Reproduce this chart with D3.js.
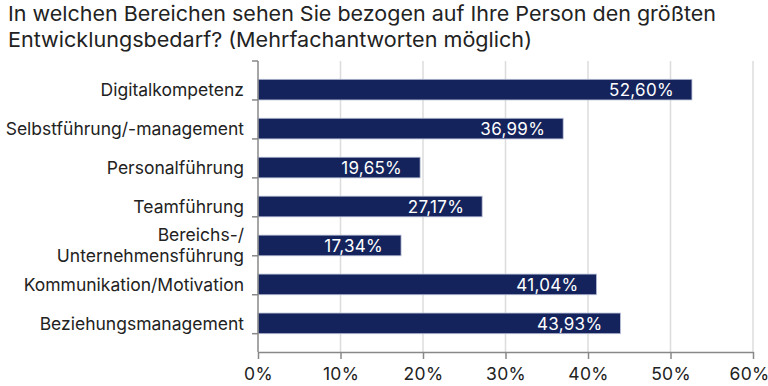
<!DOCTYPE html>
<html>
<head>
<meta charset="utf-8">
<script src="https://cdn.jsdelivr.net/npm/d3@7"></script>
<style>
  body { margin: 0; background: #fff; }
  svg { font-family: Inter, "Noto Sans", sans-serif; }
</style>
</head>
<body>
<svg id="chart" width="768" height="386"></svg>
<script>
const categories = [
  "Digitalkompetenz",
  "Selbstführung/-management",
  "Personalführung",
  "Teamführung",
  "Bereichs-/\nUnternehmensführung",
  "Kommunikation/Motivation",
  "Beziehungsmanagement"
];
const values = [52.60, 36.99, 19.65, 27.17, 17.34, 41.04, 43.93];
const xTicks = [0, 10, 20, 30, 40, 50, 60];
const titleLines = [
  "In welchen Bereichen sehen Sie bezogen auf Ihre Person den größten",
  "Entwicklungsbedarf? (Mehrfachantworten möglich)"
];
const titleWidths = [708, 524];

const svg = d3.select("#chart");
const margin = { left: 258, right: 15, top: 61, bottom: 34 };
const width = 768, height = 386;

const x = d3.scaleLinear().domain([0, 60]).range([margin.left, width - margin.right]);
const y = d3.scaleBand().domain(categories).range([margin.top, height - margin.bottom]).padding(0.47);

// title
svg.append("g").selectAll("text")
  .data(titleLines)
  .join("text")
  .attr("x", 8)
  .attr("y", (d, i) => 21 + i * 26)
  .attr("font-size", 20.5)
  .attr("fill", "#222")
  .attr("textLength", (d, i) => titleWidths[i])
  .attr("lengthAdjust", "spacingAndGlyphs")
  .text(d => d);

// gridlines
svg.append("g").selectAll("line")
  .data(xTicks.slice(1))
  .join("line")
  .attr("x1", d => x(d)).attr("x2", d => x(d))
  .attr("y1", margin.top).attr("y2", height - margin.bottom)
  .attr("stroke", "#dcdcdc").attr("stroke-width", 1.5);

// bars
svg.append("g").selectAll("rect")
  .data(values)
  .join("rect")
  .attr("x", x(0))
  .attr("y", (d, i) => y(categories[i]))
  .attr("width", d => x(d) - x(0))
  .attr("height", y.bandwidth())
  .attr("fill", "#14235c")
  .attr("stroke", "#b8bfd6").attr("stroke-width", 0.8);

// value labels
svg.append("g").selectAll("text")
  .data(values)
  .join("text")
  .attr("x", d => x(d) - 18)
  .attr("y", (d, i) => y(categories[i]) + y.bandwidth() / 2 + 6.5)
  .attr("text-anchor", "end")
  .attr("font-size", 17)
  .attr("letter-spacing", 0.3)
  .attr("fill", "#fff")
  .text(d => d.toFixed(2).replace(".", ",") + "%");

// x axis
const xAxis = svg.append("g")
  .attr("transform", `translate(0,${height - margin.bottom})`)
  .call(d3.axisBottom(x).tickValues(xTicks).tickFormat(d => d + "%").tickSize(7).tickSizeOuter(0));
xAxis.select(".domain").attr("stroke", "#888").attr("stroke-width", 1.5);
xAxis.selectAll(".tick line").attr("stroke", "#888").attr("stroke-width", 1.5);
xAxis.selectAll(".tick text")
  .attr("font-size", 17.5).attr("fill", "#222").attr("dy", "1.05em")
  .attr("letter-spacing", 0.3)
  .attr("font-family", "Inter, sans-serif")
  .attr("dx", d => d === 60 ? -4 : 0);

// y axis line and ticks at band boundaries
const step = y.step();
const bounds = d3.range(categories.length + 1).map(i => margin.top + i * step);
svg.append("line")
  .attr("x1", x(0)).attr("x2", x(0))
  .attr("y1", margin.top).attr("y2", height - margin.bottom)
  .attr("stroke", "#888").attr("stroke-width", 1.5);
svg.append("g").selectAll("line")
  .data(bounds)
  .join("line")
  .attr("x1", x(0) - 6).attr("x2", x(0))
  .attr("y1", d => d).attr("y2", d => d)
  .attr("stroke", "#888").attr("stroke-width", 1.5);

// category labels
const labels = svg.append("g").selectAll("text")
  .data(categories)
  .join("text")
  .attr("text-anchor", "end")
  .attr("font-size", 17.5)
  .attr("fill", "#222");
labels.each(function(d) {
  const lines = d.split("\n");
  const cy = y(d) + y.bandwidth() / 2;
  const t = d3.select(this);
  lines.forEach((l, i) => {
    t.append("tspan")
      .attr("x", x(0) - 14)
      .attr("y", cy + 6.5 + (i - (lines.length - 1) / 2) * 21)
      .text(l);
  });
});
</script>
</body>
</html>
